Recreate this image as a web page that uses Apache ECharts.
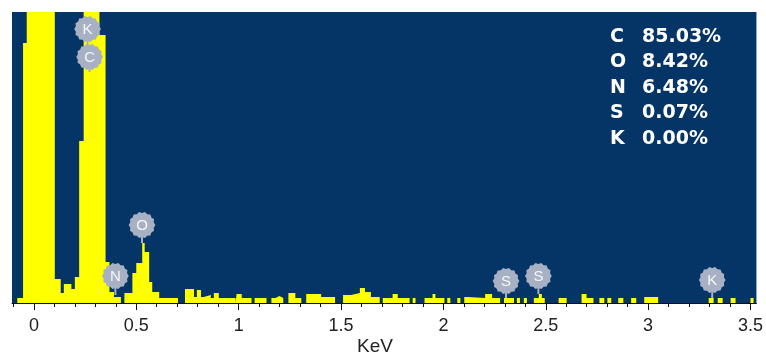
<!DOCTYPE html>
<html>
<head>
<meta charset="utf-8">
<script src="https://cdn.jsdelivr.net/npm/echarts@6/dist/echarts.min.js"></script>
<style>
  html, body { margin: 0; padding: 0; background: #ffffff; }
  #chart { width: 766px; height: 355px; }
</style>
</head>
<body>
<div id="chart"></div>
<script>
// Histogram: bin left edges (KeV) and the count of each bin (arbitrary units)
const binEdges = [-0.107, -0.081, -0.053, -0.035, 0.102, 0.131, 0.146, 0.183, 0.200, 0.221,
  0.243, 0.320, 0.350, 0.369, 0.391, 0.425, 0.442, 0.481, 0.500, 0.529,
  0.541, 0.563, 0.578, 0.612, 0.704, 0.738, 0.782, 0.796, 0.816, 0.830,
  0.864, 0.879, 0.903, 0.985, 0.990, 1.015, 1.063, 1.078, 1.136, 1.160,
  1.180, 1.199, 1.218, 1.243, 1.277, 1.306, 1.330, 1.403, 1.471, 1.510,
  1.549, 1.592, 1.617, 1.646, 1.689, 1.704, 1.752, 1.777, 1.835, 1.850,
  1.864, 1.908, 1.947, 1.961, 2.005, 2.019, 2.034, 2.068, 2.083, 2.102,
  2.117, 2.204, 2.238, 2.277, 2.296, 2.345, 2.359, 2.374, 2.393, 2.408,
  2.442, 2.466, 2.481, 2.495, 2.563, 2.602, 2.675, 2.699, 2.733, 2.762,
  2.786, 2.801, 2.820, 2.854, 2.879, 2.917, 2.942, 2.981, 3.049, 3.296,
  3.320, 3.340, 3.364, 3.403, 3.427, 3.500, 3.515, 3.529];
const binCounts = [0, 5, 260, 1000, 24, 10, 19, 14, 26, 162,
  1000, 268, 41, 11, 6, 0, 10, 30, 40, 60,
  51, 21, 11, 5, 0, 14, 6, 13, 6, 8,
  5, 10, 5, 0, 9, 5, 0, 5, 0, 5,
  7, 5, 0, 10, 5, 0, 9, 6, 0, 8,
  10, 15, 11, 6, 0, 5, 9, 5, 0, 5,
  0, 5, 9, 5, 0, 5, 0, 5, 0, 6,
  5, 9, 5, 0, 5, 0, 5, 0, 5, 0,
  5, 9, 5, 0, 5, 0, 9, 5, 0, 5,
  0, 5, 0, 5, 0, 5, 0, 6, 0, 5,
  0, 5, 0, 5, 0, 5, 0, 0];

// Peak markers
const markerLabels = ['K', 'C', 'N', 'O', 'S', 'S', 'K'];
const markerEnergy = [0.262, 0.272, 0.398, 0.528, 2.306, 2.464, 3.313];
const markerLevel  = [274, 246, 27, 78, 22, 27, 23];
const markerStemTo = [246, 231, 8, 60, 5, 9, 5];

// Composition table
const elements = ['C', 'O', 'N', 'S', 'K'];
const percents = ['85.03%', '8.42%', '6.48%', '0.07%', '0.00%'];

// Axis ticks
const majorTicks = [0, 0.5, 1, 1.5, 2, 2.5, 3, 3.5];
const minorTicks = [-0.1, 0, 0.1, 0.2, 0.3, 0.4, 0.5, 0.6, 0.7, 0.8, 0.9, 1, 1.1, 1.2, 1.3, 1.4,
  1.5, 1.6, 1.7, 1.8, 1.9, 2, 2.1, 2.2, 2.3, 2.4, 2.5, 2.6, 2.7, 2.8, 2.9, 3, 3.1, 3.2, 3.3, 3.4, 3.5];
const xMin = -0.107, xMax = 3.529, yMax = 291;

const chart = echarts.init(document.getElementById('chart'));

const histData = binEdges.map((e, i) => [e, binCounts[i]]);
const markerData = markerEnergy.map((e, i) => [e, markerLevel[i], markerStemTo[i]]);

function gear(cx, cy) {
  const pts = [];
  const n = 28;
  for (let i = 0; i < n; i++) {
    const a = i / n * Math.PI * 2;
    const r = i % 2 ? 12 : 13.4;
    pts.push([cx + r * Math.cos(a), cy + r * Math.sin(a)]);
  }
  return pts;
}

const graphics = [];
elements.forEach((el, i) => {
  const y = 38.5 + i * 25.4;
  graphics.push({ type: 'text', left: 610, top: y - 11, style: { text: el, fill: '#ffffff', font: 'bold 19px "DejaVu Sans"' } });
  graphics.push({ type: 'text', left: 642, top: y - 11, style: { text: percents[i], fill: '#ffffff', font: 'bold 19px "DejaVu Sans"' } });
});
graphics.push({ type: 'text', left: 357, top: 337, style: { text: 'KeV', fill: '#222222', font: '19px "Liberation Sans"' } });

chart.setOption({
  animation: false,
  grid: { left: 12, right: 5, top: 12, bottom: 52, show: true, backgroundColor: '#053466', borderWidth: 0 },
  xAxis: [
    {
      type: 'value', min: xMin, max: xMax, z: 5,
      axisLine: { show: true, lineStyle: { color: '#111111', width: 1 } },
      axisTick: { show: true, customValues: majorTicks, length: 7, lineStyle: { color: '#111111' } },
      axisLabel: { show: true, customValues: majorTicks, margin: 14, color: '#222222', fontSize: 18, fontFamily: 'Liberation Sans' },
      splitLine: { show: false }
    },
    {
      type: 'value', min: xMin, max: xMax, position: 'bottom', z: 5,
      axisLine: { show: false },
      axisTick: { show: true, customValues: minorTicks, length: 4, lineStyle: { color: '#111111' } },
      axisLabel: { show: false },
      splitLine: { show: false }
    }
  ],
  yAxis: { type: 'value', min: 0, max: yMax, show: false, splitLine: { show: false } },
  graphic: graphics,
  series: [
    {
      type: 'line', step: 'end', data: histData, showSymbol: false, clip: true,
      lineStyle: { width: 0, color: '#ffff00' },
      areaStyle: { color: '#ffff00', opacity: 1 },
      z: 2
    },
    {
      type: 'custom', data: markerData, z: 6,
      renderItem: function (params, api) {
        const c = api.coord([api.value(0), api.value(1)]);
        const s = api.coord([api.value(0), api.value(2)]);
        return {
          type: 'group',
          children: [
            { type: 'line', shape: { x1: c[0], y1: c[1], x2: s[0], y2: s[1] }, style: { stroke: '#a7b1c3', lineWidth: 2 } },
            { type: 'polygon', shape: { points: gear(c[0], c[1]) }, style: { fill: '#a7b1c3' } },
            { type: 'text', x: c[0], y: c[1] + 0.5, style: { text: markerLabels[params.dataIndex], fill: '#f6f7fa', font: '15px "Liberation Sans"', align: 'center', verticalAlign: 'middle' } }
          ]
        };
      }
    }
  ]
});
</script>
</body>
</html>
